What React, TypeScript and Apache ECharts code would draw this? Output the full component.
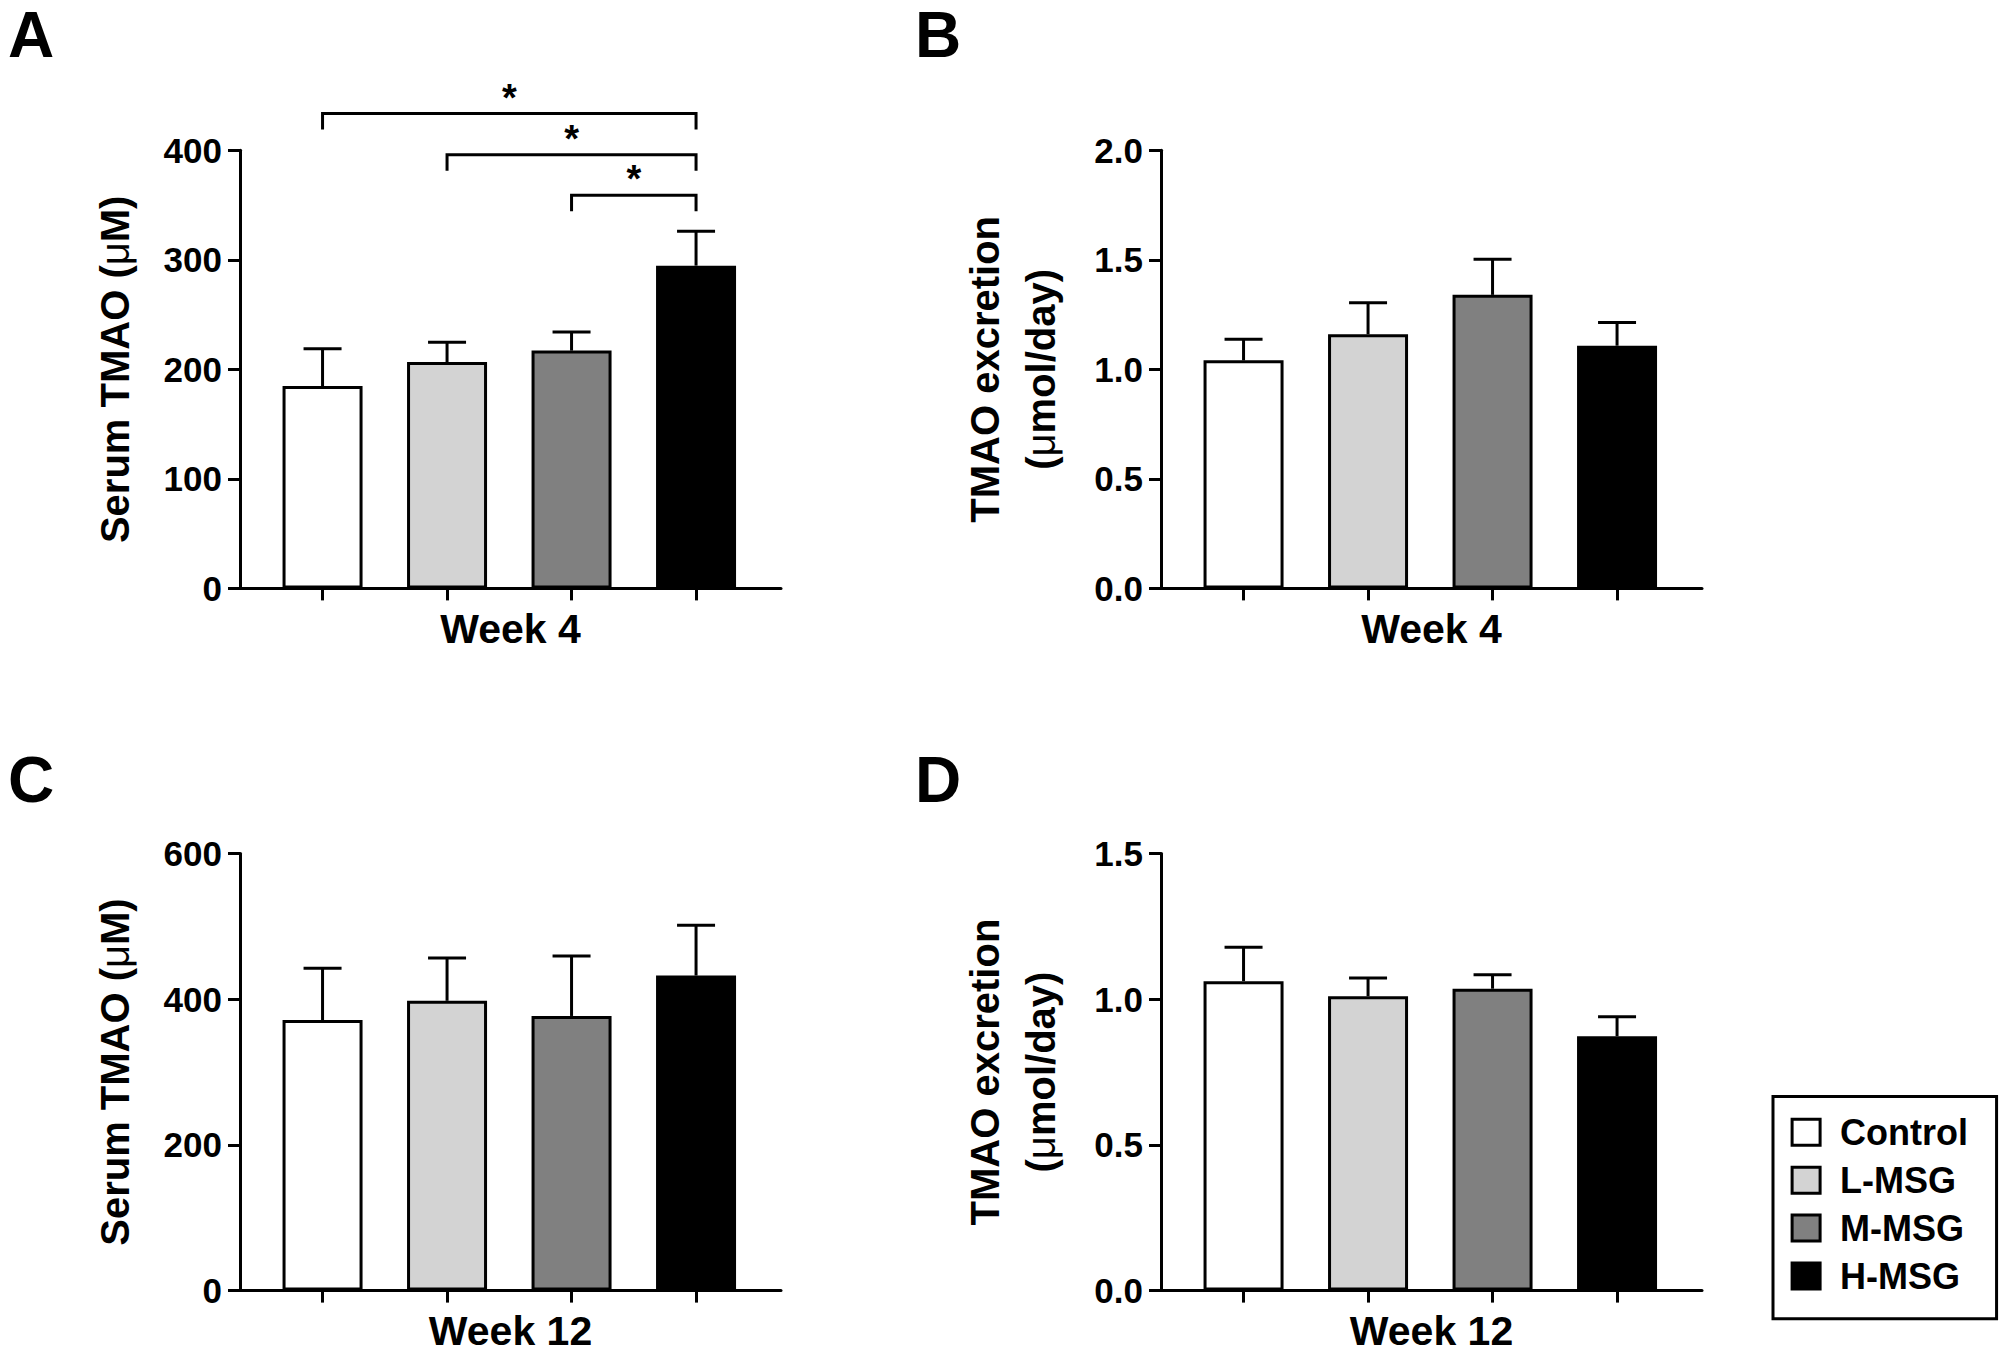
import React, { useEffect, useRef } from 'react';
import * as echarts from 'echarts';

// ---------------- data ----------------
const categories = ['Control', 'L-MSG', 'M-MSG', 'H-MSG'];
const groupColors = ['#ffffff', '#d3d3d3', '#808080', '#000000'];

const week4SerumMean = [184.8, 206.7, 217.1, 294.7];
const week4SerumErr = [33.9, 18.1, 16.9, 31.5];
const week4ExcrMean = [1.041, 1.16, 1.34, 1.108];
const week4ExcrErr = [0.096, 0.144, 0.163, 0.106];
const week12SerumMean = [371.4, 397.8, 377.0, 432.5];
const week12SerumErr = [71.2, 58.8, 82.4, 68.9];
const week12ExcrMean = [1.062, 1.01, 1.036, 0.873];
const week12ExcrErr = [0.116, 0.063, 0.048, 0.067];

// significance brackets in panel A: [from group, to group], bracket level (µM), label
const sigPairs = [[0, 3], [1, 3], [2, 3]];
const sigLevels = [433.5, 396, 359];
const sigLabels = ['*', '*', '*'];

const panelLetters = ['A', 'B', 'C', 'D'];
const weekLabels = ['Week 4', 'Week 4', 'Week 12', 'Week 12'];
const yTitles = [
  'Serum TMAO ({mu|μ}M)',
  'TMAO excretion\n({mu|μ}mol/day)',
  'Serum TMAO ({mu|μ}M)',
  'TMAO excretion\n({mu|μ}mol/day)',
];
const yMax = [400, 2.0, 600, 1.5];
const yInterval = [100, 0.5, 200, 0.5];
const yDecimals = [0, 1, 0, 1];
const means = [week4SerumMean, week4ExcrMean, week12SerumMean, week12ExcrMean];
const errs = [week4SerumErr, week4ExcrErr, week12SerumErr, week12ExcrErr];

// ---------------- layout ----------------
const FONT = '"Liberation Sans", Arial, Helvetica, sans-serif';
const COL_X = [240, 1161];
const ROW_TOP = [150.3, 853.5];
const ROW_H = [438.1, 437.1];
const AXIS_W = 541;
const BAND_OFFSET = 20.3;
const BAND_W = 498;
const LETTER_POS = [[8, 3], [915, 3], [8, 748], [915, 748]];

function buildOption() {
  const grid: any[] = [];
  const xAxis: any[] = [];
  const yAxis: any[] = [];
  const series: any[] = [];
  const graphic: any[] = [];

  for (let i = 0; i < 4; i++) {
    const col = i % 2;
    const row = Math.floor(i / 2);
    const top = ROW_TOP[row];
    const h = ROW_H[row];
    grid.push({ left: COL_X[col], top, width: AXIS_W, height: h, containLabel: false, outerBoundsMode: 'none' });
    grid.push({ left: COL_X[col] + BAND_OFFSET, top, width: BAND_W, height: h, containLabel: false, outerBoundsMode: 'none' });
    const go = 2 * i;
    const gi = 2 * i + 1;
    xAxis.push({
      gridIndex: go, type: 'value', min: 0, max: 1,
      axisLine: { show: true, onZero: false, lineStyle: { color: '#000', width: 3 } },
      axisTick: { show: false }, axisLabel: { show: false }, splitLine: { show: false },
      name: weekLabels[i], nameLocation: 'middle', nameGap: 20, nameMoveOverlap: false,
      nameTextStyle: { fontSize: 41, fontWeight: 'bold', color: '#000', fontFamily: FONT },
    });
    xAxis.push({
      gridIndex: gi, type: 'category', data: categories,
      axisLine: { show: false },
      axisTick: { show: true, alignWithLabel: true, length: 12, lineStyle: { color: '#000', width: 3 } },
      axisLabel: { show: false }, splitLine: { show: false },
    });
    const dec = yDecimals[i];
    yAxis.push({
      gridIndex: go, type: 'value', min: 0, max: yMax[i], interval: yInterval[i],
      axisLine: { show: true, onZero: false, lineStyle: { color: '#000', width: 3 } },
      axisTick: { show: true, length: 12, lineStyle: { color: '#000', width: 3 } },
      axisLabel: {
        fontSize: 35, fontWeight: 'bold', color: '#000', fontFamily: FONT, margin: 18,
        formatter: (v: number) => v.toFixed(dec),
      },
      splitLine: { show: false },
      name: yTitles[i], nameLocation: 'middle', nameGap: col === 0 ? 97 : 92, nameMoveOverlap: false,
      nameTextStyle: {
        fontSize: 40, fontWeight: 'bold', color: '#000', fontFamily: FONT, lineHeight: 56,
        rich: { mu: { fontSize: 40, fontWeight: 'normal', color: '#000', fontFamily: FONT, lineHeight: 56 } },
      },
    });
    yAxis.push({
      gridIndex: gi, type: 'value', min: 0, max: yMax[i], interval: yInterval[i], show: false,
      splitLine: { show: false },
    });

    categories.forEach((name, j) => {
      series.push({
        type: 'bar', name, xAxisIndex: gi, yAxisIndex: gi, stack: 'p' + i,
        barWidth: 80,
        data: categories.map((_, k) => (k === j ? means[i][j] : '-')),
        itemStyle: { color: groupColors[j], borderColor: '#000', borderWidth: 3 },
        emphasis: { disabled: true },
      });
    });

    series.push({
      type: 'custom', xAxisIndex: gi, yAxisIndex: gi, clip: false, z: 5,
      encode: { x: 0, y: [1, 2] },
      data: means[i].map((m, k) => [k, m, m + errs[i][k]]),
      renderItem: (params: any, api: any) => {
        const base = api.coord([api.value(0), api.value(1)]);
        const tip = api.coord([api.value(0), api.value(2)]);
        const half = 19;
        return {
          type: 'group',
          children: [
            { type: 'line', shape: { x1: base[0], y1: base[1], x2: tip[0], y2: tip[1] }, style: { stroke: '#000', lineWidth: 3 } },
            { type: 'line', shape: { x1: tip[0] - half, y1: tip[1], x2: tip[0] + half, y2: tip[1] }, style: { stroke: '#000', lineWidth: 3 } },
          ],
        };
      },
    });

    graphic.push({
      type: 'text', left: LETTER_POS[i][0], top: LETTER_POS[i][1],
      style: { text: panelLetters[i], fontSize: 64, fontWeight: 'bold', fill: '#000', fontFamily: FONT },
    });
  }

  // significance brackets (panel A)
  series.push({
    type: 'custom', xAxisIndex: 1, yAxisIndex: 1, clip: false, z: 6,
    encode: { x: [0, 1], y: 2 },
    data: sigPairs.map((p, k) => [p[0], p[1], sigLevels[k], k]),
    renderItem: (params: any, api: any) => {
      const a = api.coord([api.value(0), api.value(2)]);
      const b = api.coord([api.value(1), api.value(2)]);
      const drop = 16;
      const label = sigLabels[api.value(3)];
      return {
        type: 'group',
        children: [
          {
            type: 'polyline',
            shape: { points: [[a[0], a[1] + drop], [a[0], a[1]], [b[0], b[1]], [b[0], b[1] + drop]] },
            style: { stroke: '#000', lineWidth: 3, fill: 'none' },
          },
          {
            type: 'text', x: (a[0] + b[0]) / 2, y: a[1] - 16,
            style: { text: label, fill: '#000', fontSize: 38, fontWeight: 'bold', fontFamily: FONT, align: 'center', verticalAlign: 'middle' },
          },
        ],
      };
    },
  });

  return {
    animation: false,
    backgroundColor: '#ffffff',
    grid, xAxis, yAxis, series, graphic,
    legend: {
      data: categories,
      orient: 'vertical',
      left: 1773, top: 1096.5,
      icon: 'rect',
      itemWidth: 28, itemHeight: 26, itemGap: 11.9,
      padding: [17.8, 28.5, 24.8, 17.6],
      borderColor: '#000', borderWidth: 3,
      itemStyle: { borderColor: '#000', borderWidth: 3 },
      textStyle: { fontSize: 36, fontWeight: 'bold', color: '#000', fontFamily: FONT, lineHeight: 28, padding: [0, 0, 0, 15] },
      selectedMode: false,
    },
  };
}

export default function App() {
  const ref = useRef<HTMLDivElement>(null);
  useEffect(() => {
    if (!ref.current) return;
    const chart = echarts.init(ref.current, undefined, { renderer: 'svg' });
    chart.setOption(buildOption() as any);
    return () => chart.dispose();
  }, []);
  return (
    <div
      ref={ref}
      style={{ position: 'fixed', left: 0, top: 0, width: 2005, height: 1360, background: '#fff' }}
    />
  );
}
